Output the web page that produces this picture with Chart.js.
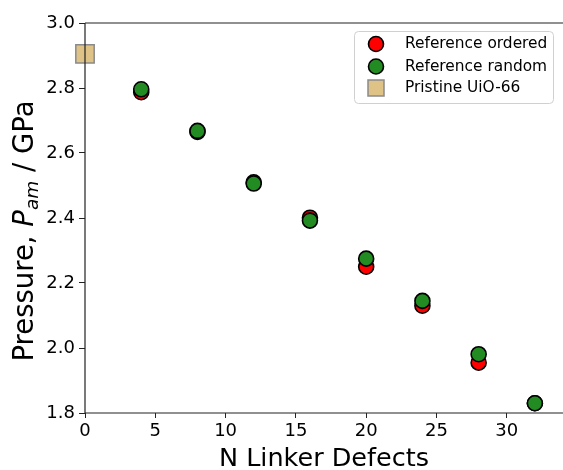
<!DOCTYPE html>
<html>
<head>
<meta charset="utf-8">
<script src="https://cdn.jsdelivr.net/npm/chart.js@4/dist/chart.umd.min.js"></script>
<style>
html,body{margin:0;padding:0;background:#fff;}
#wrap{width:563px;height:470px;}
</style>
</head>
<body>
<div id="wrap"><canvas id="c" width="563" height="470"></canvas></div>
<script>
// ---- data ----
const defects = [4, 8, 12, 16, 20, 24, 28, 32];
const orderedP = [2.787, 2.665, 2.510, 2.401, 2.250, 2.130, 1.955, 1.830];
const randomP  = [2.796, 2.668, 2.506, 2.392, 2.275, 2.145, 1.981, 1.830];
const pristineX = [0];
const pristineP = [2.905];
const seriesLabels = ["Reference ordered", "Reference random", "Pristine UiO-66"];
const xTicks = [0, 5, 10, 15, 20, 25, 30];
const yTicks = [1.8, 2.0, 2.2, 2.4, 2.6, 2.8, 3.0];
const xTitle = "N Linker Defects";
const yTitleParts = ["Pressure, ", "P", "am", " / GPa"];

const FONT = "'DejaVu Sans', sans-serif";

const pts = (xs, ys) => xs.map((x, i) => ({x: x, y: ys[i]}));

const framePlugin = {
  id: 'frame',
  afterDraw(chart) {
    const ctx = chart.ctx, a = chart.chartArea;
    ctx.save();
    // spines
    ctx.strokeStyle = '#222';
    ctx.lineWidth = 1.2;
    ctx.beginPath();
    ctx.moveTo(a.left, a.top); ctx.lineTo(a.right + 2, a.top);
    ctx.moveTo(a.left, a.top); ctx.lineTo(a.left, a.bottom);
    ctx.moveTo(a.left, a.bottom); ctx.lineTo(a.right + 2, a.bottom);
    ctx.stroke();
    // x title
    ctx.fillStyle = '#000';
    ctx.font = "25.5px " + FONT;
    ctx.textAlign = 'center';
    ctx.textBaseline = 'alphabetic';
    ctx.fillText(xTitle, (a.left + a.right) / 2, 466);
    // y title with italic P and subscript
    ctx.translate(33, 231);
    ctx.rotate(-Math.PI / 2);
    const fN = "27.5px " + FONT, fI = "italic 27.5px " + FONT, fS = "italic 18.5px " + FONT;
    ctx.font = fN; const w0 = ctx.measureText(yTitleParts[0]).width;
    ctx.font = fI; const w1 = ctx.measureText(yTitleParts[1]).width;
    ctx.font = fS; const w2 = ctx.measureText(yTitleParts[2]).width;
    ctx.font = fN; const w3 = ctx.measureText(yTitleParts[3]).width;
    let x = -(w0 + w1 + w2 + w3) / 2;
    ctx.textAlign = 'left';
    ctx.font = fN; ctx.fillText(yTitleParts[0], x, 0); x += w0;
    ctx.font = fI; ctx.fillText(yTitleParts[1], x, 0); x += w1;
    ctx.font = fS; ctx.fillText(yTitleParts[2], x, 5); x += w2;
    ctx.font = fN; ctx.fillText(yTitleParts[3], x, 0);
    ctx.restore();

    // legend
    ctx.save();
    const lx = 354.5, ly = 31.5, lw = 199, lh = 72;
    ctx.fillStyle = 'rgba(255,255,255,0.85)';
    ctx.strokeStyle = '#d0d0d0';
    ctx.lineWidth = 1;
    ctx.beginPath();
    if (ctx.roundRect) ctx.roundRect(lx, ly, lw, lh, 4); else ctx.rect(lx, ly, lw, lh);
    ctx.fill(); ctx.stroke();
    const rows = [44, 66.5, 88];
    [0, 1, 2].forEach((di) => {
      const ds = chart.data.datasets[di];
      const cy = rows[di], cx = 376;
      ctx.fillStyle = ds.backgroundColor;
      ctx.strokeStyle = ds.borderColor;
      ctx.lineWidth = ds.borderWidth;
      ctx.beginPath();
      if (ds.pointStyle === 'rect') {
        ctx.rect(cx - 8, cy - 8, 16, 16);
      } else {
        ctx.arc(cx, cy, 7.5, 0, Math.PI * 2);
      }
      ctx.fill(); ctx.stroke();
      ctx.fillStyle = '#000';
      ctx.font = "15.4px " + FONT;
      ctx.textAlign = 'left';
      ctx.textBaseline = 'middle';
      ctx.fillText(ds.label, 405, cy);
    });
    ctx.restore();
  }
};

new Chart(document.getElementById('c'), {
  type: 'scatter',
  data: {
    datasets: [
      {label: seriesLabels[0], order: 3, data: pts(defects, orderedP), backgroundColor: '#ff0000', borderColor: '#000', borderWidth: 1.6, pointRadius: 7.5, pointHoverRadius: 7.5, clip: false},
      {label: seriesLabels[1], order: 2, data: pts(defects, randomP), backgroundColor: '#228b22', borderColor: '#000', borderWidth: 1.6, pointRadius: 7.5, pointHoverRadius: 7.5, clip: false},
      {label: seriesLabels[2], order: 1, data: pts(pristineX, pristineP), backgroundColor: '#dfc285', borderColor: '#8a8a8a', borderWidth: 1.5, pointStyle: 'rect', pointRadius: 13, pointHoverRadius: 13, clip: false}
    ]
  },
  options: {
    responsive: false,
    animation: false,
    events: [],
    layout: {autoPadding: false, padding: {top: 23, right: 0, left: 0, bottom: 0}},
    plugins: {legend: {display: false}, tooltip: {enabled: false}},
    scales: {
      x: {
        type: 'linear', min: 0, max: 34,
        afterFit: s => { s.height = 57; s.paddingLeft = 0; s.paddingRight = 0; },
        afterBuildTicks: s => { s.ticks = xTicks.map(v => ({value: v})); },
        border: {display: false},
        grid: {display: true, drawOnChartArea: false, drawTicks: true, tickLength: 5, tickColor: '#222', tickWidth: 1},
        ticks: {color: '#000', font: {family: FONT, size: 18}, padding: 3, maxRotation: 0,
                callback: v => String(v)}
      },
      y: {
        type: 'linear', min: 1.8, max: 3.0,
        afterFit: s => { s.width = 85; s.paddingTop = 0; s.paddingBottom = 0; },
        afterBuildTicks: s => { s.ticks = yTicks.map(v => ({value: v})); },
        border: {display: false},
        grid: {display: true, drawOnChartArea: false, drawTicks: true, tickLength: 6, tickColor: '#222', tickWidth: 1},
        ticks: {color: '#000', font: {family: FONT, size: 18}, padding: 4,
                callback: v => Number(v).toFixed(1)}
      }
    }
  },
  plugins: [framePlugin]
});
</script>
</body>
</html>
